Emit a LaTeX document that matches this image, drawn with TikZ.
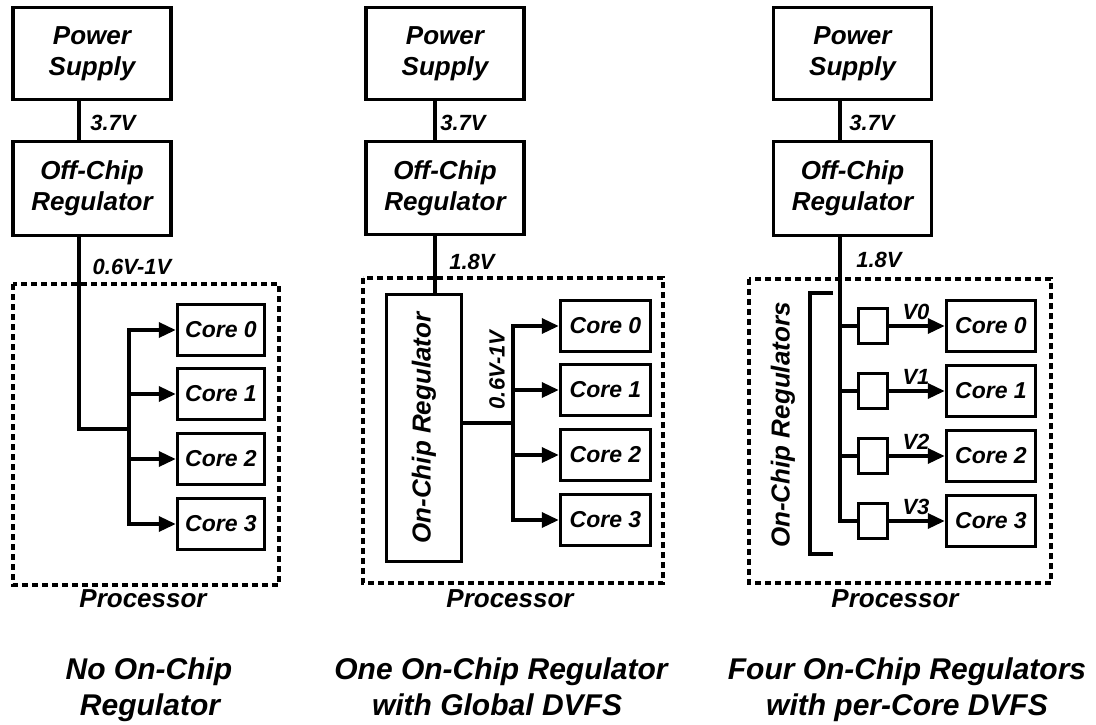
\documentclass[tikz,border=0pt]{standalone}
\usepackage{fontspec}
\setmainfont{Liberation Sans}
\usetikzlibrary{arrows.meta}
\begin{document}
\begin{tikzpicture}[x=1pt,y=-1pt,
  blk/.style={draw, line width=3.5pt, align=center, inner sep=0pt, minimum width=158pt,
    font=\fontsize{26}{31}\selectfont\bfseries\itshape},
  core/.style={draw, line width=3.5pt, inner sep=0pt, minimum height=51pt,
    font=\fontsize{23}{26}\selectfont\bfseries\itshape},
  sreg/.style={draw, line width=3.5pt, inner sep=0pt, minimum width=29pt, minimum height=35pt},
  lbl/.style={inner sep=0pt, font=\fontsize{22}{26}\selectfont\bfseries\itshape},
  big/.style={inner sep=0pt, font=\fontsize{26}{31}\selectfont\bfseries\itshape},
  captxt/.style={inner sep=0pt, anchor=base, font=\fontsize{30}{36}\selectfont\bfseries\itshape},
  wire/.style={line width=3.5pt},
  arr/.style={line width=3.5pt, -{Triangle[length=17pt,width=15pt]}},
  proc/.style={line width=3.5pt, dash pattern=on 6pt off 4pt}]
\useasboundingbox (0,0) rectangle (1096,724);

% ---------------- Left panel ----------------
\coordinate (x1) at (79,0);
\node[blk, minimum height=92pt] (ps1) at (92,53.5) {Power\\Supply};
\node[blk, minimum height=94pt] (oc1) at (92,188.5) {Off-Chip\\Regulator};
\draw[wire] (ps1.south -| x1) -- (oc1.north -| x1);
\node[lbl] (l1a) at (113,123) {3.7V};
\node[lbl] (l1b) at (132,267) {0.6V-1V};
\draw[proc] (13,284) rectangle (279,585);
\node[core, minimum width=87pt] (c10) at (221,330) {Core 0};
\node[core, minimum width=87pt] (c11) at (221,394) {Core 1};
\node[core, minimum width=87pt] (c12) at (221,459) {Core 2};
\node[core, minimum width=87pt] (c13) at (221,524) {Core 3};
\coordinate (j1) at (129,429);
\draw[wire] (oc1.south -| x1) |- (j1);
\draw[arr] (j1) |- (c10.west);
\draw[arr] (j1) |- (c13.west);
\draw[arr] (c11.west -| j1) -- (c11.west);
\draw[arr] (c12.west -| j1) -- (c12.west);
\node[big] (pn1) at (143,599) {Processor};
\node[captxt] (t1a) at (149,679) {No On-Chip};
\node[captxt] (t1b) at (150,715) {Regulator};

% ---------------- Middle panel ----------------
\coordinate (x2) at (435,0);
\node[blk, minimum height=92pt] (ps2) at (445,53.5) {Power\\Supply};
\node[blk, minimum height=93pt] (oc2) at (445,188) {Off-Chip\\Regulator};
\draw[wire] (ps2.south -| x2) -- (oc2.north -| x2);
\node[lbl] (l2a) at (463,123) {3.7V};
\node[lbl] (l2b) at (472,262) {1.8V};
\draw[proc] (363,278) rectangle (663,583);
\node[draw, line width=3.5pt, inner sep=0pt, minimum width=75pt, minimum height=267pt] (or2) at (424,428) {};
\node[big, rotate=90] (or2t) at (or2.center) {On-Chip Regulator};
\draw[wire] (oc2.south -| x2) -- (or2.north -| x2);
\node[core, minimum width=90pt] (c20) at (605.5,326) {Core 0};
\node[core, minimum width=90pt] (c21) at (605.5,390) {Core 1};
\node[core, minimum width=90pt] (c22) at (605.5,455) {Core 2};
\node[core, minimum width=90pt] (c23) at (605.5,520) {Core 3};
\coordinate (j2) at (513,423);
\draw[wire] (or2.east |- j2) -- (j2);
\draw[arr] (j2) |- (c20.west);
\draw[arr] (j2) |- (c23.west);
\draw[arr] (c21.west -| j2) -- (c21.west);
\draw[arr] (c22.west -| j2) -- (c22.west);
\node[lbl, rotate=90] (l2c) at (497,370) {0.6V-1V};
\node[big] (pn2) at (510,599) {Processor};
\node[captxt] (t2a) at (501,679) {One On-Chip Regulator};
\node[captxt] (t2b) at (497,715) {with Global DVFS};

% ---------------- Right panel ----------------
\coordinate (x3) at (840,0);
\node[blk, minimum height=92pt] (ps3) at (852.5,53.5) {Power\\Supply};
\node[blk, minimum height=94pt] (oc3) at (852.5,188.5) {Off-Chip\\Regulator};
\draw[wire] (ps3.south -| x3) -- (oc3.north -| x3);
\node[lbl] (l3a) at (872,123) {3.7V};
\node[lbl] (l3b) at (879,260) {1.8V};
\draw[proc] (749,279) rectangle (1051,583);
\node[sreg] (r0) at (873,326) {};
\node[sreg] (r1) at (873,391) {};
\node[sreg] (r2) at (873,456) {};
\node[sreg] (r3) at (873,521) {};
\node[core, minimum width=89pt] (c30) at (991,326) {Core 0};
\node[core, minimum width=89pt] (c31) at (991,391) {Core 1};
\node[core, minimum width=89pt] (c32) at (991,456) {Core 2};
\node[core, minimum width=89pt] (c33) at (991,521) {Core 3};
\draw[wire] (oc3.south -| x3) |- (r3.west);
\draw[wire] (r0.west -| x3) -- (r0.west);
\draw[wire] (r1.west -| x3) -- (r1.west);
\draw[wire] (r2.west -| x3) -- (r2.west);
\draw[arr] (r0.east) -- (c30.west);
\draw[arr] (r1.east) -- (c31.west);
\draw[arr] (r2.east) -- (c32.west);
\draw[arr] (r3.east) -- (c33.west);
\node[lbl] (v0) at (916,312) {V0};
\node[lbl] (v1) at (916,377) {V1};
\node[lbl] (v2) at (916,442) {V2};
\node[lbl] (v3) at (916,507) {V3};
\draw[wire] (833,293) -- (810,293) -- (810,554) -- (833,554);
\node[big, rotate=90] (ort) at (783,425) {On-Chip Regulators};
\node[big] (pn3) at (895,599) {Processor};
\node[captxt] (t3a) at (907,679) {Four On-Chip Regulators};
\node[captxt] (t3b) at (907,715) {with per-Core DVFS};
\end{tikzpicture}
\end{document}
